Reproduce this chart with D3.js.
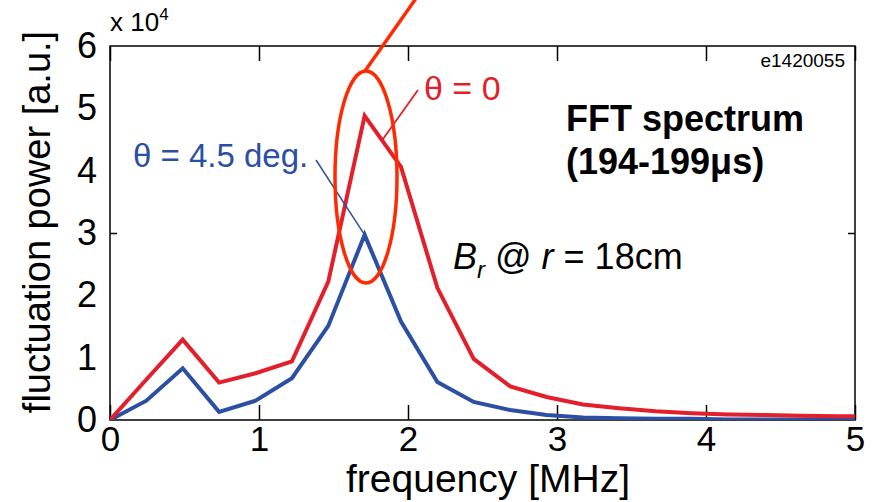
<!DOCTYPE html>
<html><head><meta charset="utf-8">
<script src="https://cdn.jsdelivr.net/npm/d3@7"></script>
<style>body{margin:0;background:#fff}svg{display:block}text{font-family:"Liberation Sans",Arial,sans-serif}</style>
</head><body>
<svg id="chart" width="873" height="502"></svg>
<script>
// ---- data ----
const freq = [0,0.244,0.488,0.732,0.977,1.221,1.465,1.709,1.953,2.197,2.441,2.686,2.930,3.174,3.418,3.662,3.906,4.150,4.395,4.639,4.883,5.127];
const powerTheta0 = [0,0.65,1.29,0.60,0.75,0.94,2.22,4.88,4.06,2.12,0.98,0.54,0.37,0.25,0.19,0.14,0.11,0.09,0.08,0.07,0.06,0.06];
const powerTheta45 = [0,0.31,0.83,0.13,0.31,0.67,1.51,2.97,1.58,0.61,0.29,0.16,0.08,0.04,0.03,0.02,0.02,0.01,0.01,0.01,0.01,0.01];
const xTicks = [0,1,2,3,4,5];
const yTicks = [0,1,2,3,4,5,6];
const yMinorShown = [3];

const W = 873, H = 502;
const m = {l:110, t:46, r:18, b:82};
const svg = d3.select("#chart");
const x = d3.scaleLinear().domain([0,5]).range([m.l, W-m.r]);
const y = d3.scaleLinear().domain([0,6]).range([H-m.b, m.t]);

// clip
svg.append("clipPath").attr("id","clip").append("rect")
  .attr("x",m.l).attr("y",m.t).attr("width",x(5)-m.l).attr("height",y(0)-m.t);

const RED = "#e21f2a", BLUE = "#2b4fa2";

// x axis bottom (inward ticks)
const gx = svg.append("g").attr("transform",`translate(0,${y(0)})`)
  .call(d3.axisBottom(x).tickValues(xTicks).tickFormat(d3.format("d")).tickSizeInner(-15).tickSizeOuter(0).tickPadding(6));
gx.select(".domain").remove();
gx.selectAll("line").attr("stroke","#000").attr("stroke-width",1.5);
gx.selectAll("text").attr("font-size",35).attr("fill","#000");
// x axis top ticks
const gxt = svg.append("g").attr("transform",`translate(0,${y(6)})`)
  .call(d3.axisTop(x).tickValues(xTicks).tickFormat("").tickSizeInner(-15).tickSizeOuter(0));
gxt.select(".domain").remove();
gxt.selectAll("line").attr("stroke","#000").attr("stroke-width",1.5);

// y axis labels
const gy = svg.append("g").attr("transform",`translate(${x(0)},0)`)
  .call(d3.axisLeft(y).tickValues(yTicks).tickFormat(d3.format("d")).tickSizeInner(0).tickSizeOuter(0).tickPadding(13));
gy.select(".domain").remove();
gy.selectAll("text").attr("font-size",36).attr("fill","#000");
// y ticks (visible one)
const gyt = svg.append("g").attr("transform",`translate(${x(0)},0)`)
  .call(d3.axisLeft(y).tickValues(yMinorShown).tickFormat("").tickSizeInner(-7).tickSizeOuter(0));
gyt.select(".domain").remove();
gyt.selectAll("line").attr("stroke","#000").attr("stroke-width",1.5);
const gyr = svg.append("g").attr("transform",`translate(${x(5)},0)`)
  .call(d3.axisRight(y).tickValues(yMinorShown).tickFormat("").tickSizeInner(-7).tickSizeOuter(0));
gyr.select(".domain").remove();
gyr.selectAll("line").attr("stroke","#000").attr("stroke-width",1.5);

// frame
svg.append("rect").attr("x",x(0)).attr("y",y(6)).attr("width",x(5)-x(0)).attr("height",y(0)-y(6))
  .attr("fill","none").attr("stroke","#000").attr("stroke-width",1.5);

// lines
const line = d3.line().x((d,i)=>x(freq[i])).y(d=>y(d));
const plot = svg.append("g").attr("clip-path","url(#clip)");
plot.append("path").datum(powerTheta45).attr("d",line).attr("fill","none")
  .attr("stroke",BLUE).attr("stroke-width",4).attr("stroke-linejoin","miter");
plot.append("path").datum(powerTheta0).attr("d",line).attr("fill","none")
  .attr("stroke",RED).attr("stroke-width",4).attr("stroke-linejoin","miter");

// annotations
svg.append("text").attr("x",x(0)).attr("y",31).attr("font-size",26)
  .html('x 10<tspan dy="-11" font-size="17">4</tspan>');
svg.append("text").attr("x",845).attr("y",67).attr("font-size",19).attr("text-anchor","end").text("e1420055");

// theta = 0 label and leader
svg.append("text").attr("x",424).attr("y",100).attr("font-size",34).attr("fill",RED).text("θ = 0");
svg.append("line").attr("x1",418).attr("y1",90).attr("x2",383).attr("y2",139)
  .attr("stroke",RED).attr("stroke-width",1.8);
// theta = 4.5 label and leader
svg.append("text").attr("x",133).attr("y",167).attr("font-size",33).attr("fill",BLUE).text("θ = 4.5 deg.");
svg.append("line").attr("x1",316).attr("y1",160).attr("x2",x(freq[7])).attr("y2",y(powerTheta45[7]))
  .attr("stroke",BLUE).attr("stroke-width",1.5);

// FFT title
svg.append("text").attr("x",566).attr("y",131).attr("font-size",36).attr("font-weight","bold").text("FFT spectrum");
svg.append("text").attr("x",566).attr("y",174).attr("font-size",36).attr("font-weight","bold").text("(194-199μs)");

// B_r @ r = 18cm
svg.append("text").attr("x",453).attr("y",269).attr("font-size",36)
  .html('<tspan font-style="italic">B</tspan><tspan font-style="italic" font-size="24" dy="9">r</tspan><tspan dy="-9"> @ </tspan><tspan font-style="italic">r</tspan><tspan> = 18cm</tspan>');

// ellipse highlight and pointer
svg.append("ellipse").attr("cx",366).attr("cy",177).attr("rx",31).attr("ry",106)
  .attr("fill","none").attr("stroke","#ff2a00").attr("stroke-width",3.5);
svg.append("line").attr("x1",365).attr("y1",71).attr("x2",417).attr("y2",-3)
  .attr("stroke","#ff2a00").attr("stroke-width",3.5);

// axis titles
svg.append("text").attr("x",488).attr("y",492).attr("font-size",39).attr("text-anchor","middle").text("frequency [MHz]");
svg.append("text").attr("transform","translate(50,222) rotate(-90)").attr("font-size",38).attr("text-anchor","middle").text("fluctuation power [a.u.]");
</script>
</body></html>
